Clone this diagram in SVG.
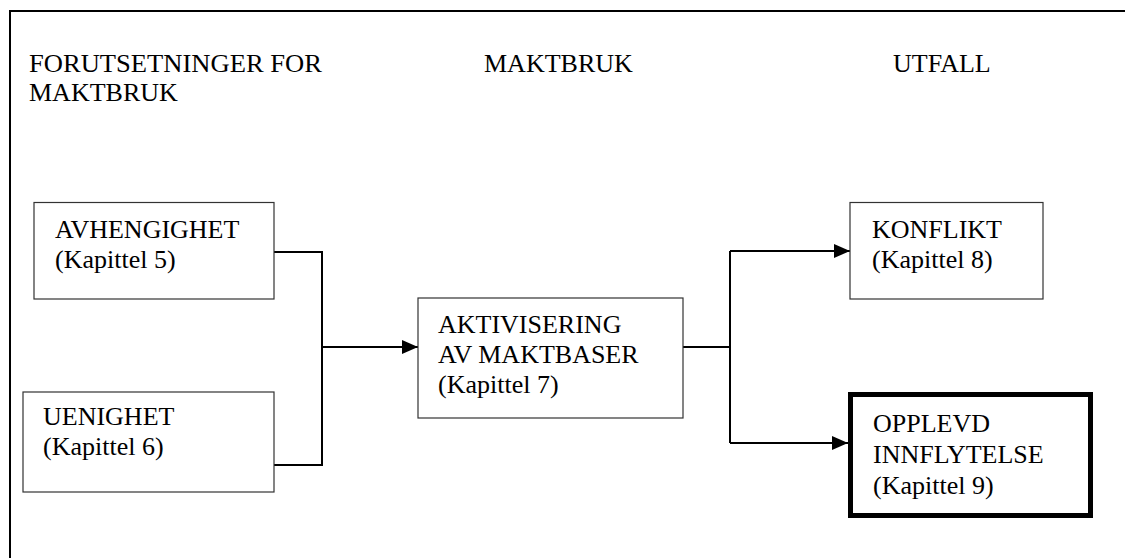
<svg xmlns="http://www.w3.org/2000/svg" width="1125" height="558" viewBox="0 0 1125 558">
<style>
text{font-family:"Liberation Serif","Times New Roman",serif;font-size:26px;fill:#000}
.box{fill:#fff;stroke:#333;stroke-width:1.2}
.bold{fill:#fff;stroke:#000;stroke-width:5}
.con{fill:none;stroke:#000;stroke-width:2}
</style>
<defs>
<marker id="arr" viewBox="0 0 16 14" refX="16" refY="7" markerWidth="16" markerHeight="14" markerUnits="userSpaceOnUse" orient="auto">
<path d="M0,0 L16,7 L0,14 Z" fill="#000"/>
</marker>
</defs>
<rect width="1125" height="558" fill="#fff"/>
<rect x="10" y="11" width="1200" height="600" fill="none" stroke="#000" stroke-width="2"/>
<g id="headers">
<text x="29" y="72" textLength="293" lengthAdjust="spacingAndGlyphs">FORUTSETNINGER FOR</text>
<text x="29" y="101">MAKTBRUK</text>
<text x="484" y="72">MAKTBRUK</text>
<text x="893" y="72">UTFALL</text>
</g>
<g id="connectors">
<polyline class="con" points="274,252 322,252 322,465 274,465"/>
<line class="con" x1="322" y1="347" x2="418" y2="347" marker-end="url(#arr)"/>
<polyline class="con" points="683,347 730,347"/>
<polyline class="con" points="730,251 730,443"/>
<line class="con" x1="730" y1="251" x2="850" y2="251" marker-end="url(#arr)"/>
<line class="con" x1="730" y1="443" x2="848" y2="443" marker-end="url(#arr)"/>
</g>
<g id="avhengighet">
<rect class="box" x="34" y="202.5" width="240" height="96.5"/>
<text x="55" y="238">AVHENGIGHET</text>
<text x="55" y="268">(Kapittel 5)</text>
</g>
<g id="uenighet">
<rect class="box" x="23" y="392" width="251" height="100"/>
<text x="43" y="425">UENIGHET</text>
<text x="43" y="455">(Kapittel 6)</text>
</g>
<g id="aktivisering">
<rect class="box" x="418" y="298" width="265" height="120"/>
<text x="438" y="333">AKTIVISERING</text>
<text x="438" y="363">AV MAKTBASER</text>
<text x="438" y="393">(Kapittel 7)</text>
</g>
<g id="konflikt">
<rect class="box" x="850" y="202.5" width="193" height="96.5"/>
<text x="872" y="238">KONFLIKT</text>
<text x="872" y="268">(Kapittel 8)</text>
</g>
<g id="opplevd">
<rect class="bold" x="850.5" y="394.5" width="240" height="121"/>
<text x="873" y="432">OPPLEVD</text>
<text x="873" y="463">INNFLYTELSE</text>
<text x="873" y="494">(Kapittel 9)</text>
</g>
</svg>
